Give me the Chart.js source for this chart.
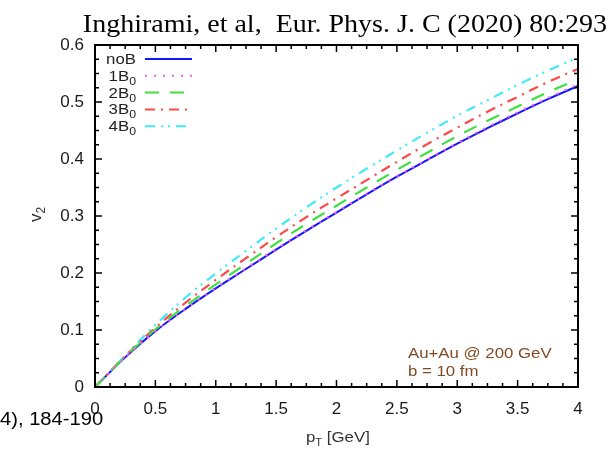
<!DOCTYPE html>
<html>
<head>
<meta charset="utf-8">
<script src="https://cdn.jsdelivr.net/npm/chart.js@4"></script>
<style>
  html, body { margin: 0; padding: 0; background: #fff; }
  #wrap { width: 609px; height: 455px; }
</style>
</head>
<body>
<div id="wrap"><canvas id="v2chart" width="609" height="455"></canvas></div>
<script>
// pT grid [GeV] and v2 curves
const pT    = [0, 0.25, 0.5, 0.75, 1.0, 1.25, 1.5, 1.75, 2.0, 2.25, 2.5, 2.75, 3.0, 3.25, 3.5, 3.75, 4.0];
const v2noB = [0, 0.052, 0.098, 0.137, 0.173, 0.207, 0.241, 0.274, 0.306, 0.338, 0.369, 0.398, 0.427, 0.454, 0.480, 0.505, 0.528];
const v2B1  = [0, 0.052, 0.098, 0.137, 0.174, 0.208, 0.242, 0.275, 0.307, 0.339, 0.370, 0.399, 0.428, 0.456, 0.482, 0.507, 0.531];
const v2B2  = [0, 0.053, 0.101, 0.142, 0.180, 0.216, 0.252, 0.286, 0.318, 0.350, 0.381, 0.411, 0.440, 0.467, 0.492, 0.517, 0.540];
const v2B3  = [0, 0.054, 0.104, 0.148, 0.188, 0.226, 0.263, 0.298, 0.331, 0.363, 0.395, 0.426, 0.455, 0.483, 0.509, 0.535, 0.558];
const v2B4  = [0, 0.055, 0.109, 0.157, 0.199, 0.239, 0.278, 0.315, 0.350, 0.383, 0.415, 0.446, 0.476, 0.503, 0.530, 0.555, 0.578];

const seriesNames = ['noB', '1B', '2B', '3B', '4B'];
const seriesSubs  = ['', '0', '0', '0', '0'];
const xTicks = [0, 0.5, 1, 1.5, 2, 2.5, 3, 3.5, 4];
const yTicks = [0, 0.1, 0.2, 0.3, 0.4, 0.5, 0.6];

const seriesValues = [v2noB, v2B1, v2B2, v2B3, v2B4];
const colors  = ['#1515ff', '#f060f0', '#40e040', '#ff4848', '#40eaf8'];
const dashes  = [[], [2, 7], [14, 11], [10, 6, 2, 6], [10, 6, 2, 5, 2, 6]];

const SX = 1.12; // the picture is a bit wider than tall in its text

function wideText(ctx, str, x, y, align) {
  const w = ctx.measureText(str).width * SX;
  let x0 = x;
  if (align === 'right') x0 = x - w;
  if (align === 'center') x0 = x - w / 2;
  ctx.save();
  ctx.translate(x0, y);
  ctx.scale(SX, 1);
  ctx.textAlign = 'left';
  ctx.fillText(str, 0, 0);
  ctx.restore();
  return w;
}

// frame with inward ticks, legend and the texts
const decor = {
  id: 'decor',
  afterDraw(chart) {
    const ctx = chart.ctx;
    const a = chart.chartArea;
    const xs = chart.scales.x, ys = chart.scales.y;

    ctx.save();
    ctx.strokeStyle = '#000';
    ctx.lineWidth = 1.5;
    ctx.beginPath();
    // minor and major ticks
    for (let i = 0; i < xTicks.length; i++) {
      const px = xs.getPixelForValue(xTicks[i]);
      ctx.moveTo(px, a.bottom); ctx.lineTo(px, a.bottom - 7);
      ctx.moveTo(px, a.top); ctx.lineTo(px, a.top + 7);
      if (i < xTicks.length - 1) {
        const step = (xTicks[i + 1] - xTicks[i]) / 4;
        for (let k = 1; k < 4; k++) {
          const mx = xs.getPixelForValue(xTicks[i] + k * step);
          ctx.moveTo(mx, a.bottom); ctx.lineTo(mx, a.bottom - 4);
          ctx.moveTo(mx, a.top); ctx.lineTo(mx, a.top + 4);
        }
      }
    }
    for (let i = 0; i < yTicks.length; i++) {
      const py = ys.getPixelForValue(yTicks[i]);
      ctx.moveTo(a.left, py); ctx.lineTo(a.left + 7, py);
      ctx.moveTo(a.right, py); ctx.lineTo(a.right - 7, py);
      if (i < yTicks.length - 1) {
        const step = (yTicks[i + 1] - yTicks[i]) / 4;
        for (let k = 1; k < 4; k++) {
          const my = ys.getPixelForValue(yTicks[i] + k * step);
          ctx.moveTo(a.left, my); ctx.lineTo(a.left + 4, my);
          ctx.moveTo(a.right, my); ctx.lineTo(a.right - 4, my);
        }
      }
    }
    ctx.stroke();
    ctx.lineWidth = 2;
    ctx.strokeRect(a.left, a.top, a.right - a.left, a.bottom - a.top);

    // legend
    chart.data.datasets.forEach((ds, i) => {
      const y = a.top + 14 + i * 16.8;
      ctx.fillStyle = '#222';
      let right = 136;
      if (seriesSubs[i]) {
        ctx.font = '11px "Liberation Sans", Arial, sans-serif';
        const ws = wideText(ctx, seriesSubs[i], right, y + 9, 'right');
        right -= ws;
      }
      ctx.font = '15px "Liberation Sans", Arial, sans-serif';
      wideText(ctx, seriesNames[i], right, y + 5, 'right');
      ctx.strokeStyle = ds.borderColor;
      ctx.lineWidth = 2;
      ctx.setLineDash(ds.borderDash);
      ctx.beginPath();
      ctx.moveTo(145, y); ctx.lineTo(192, y);
      ctx.stroke();
      ctx.setLineDash([]);
    });

    // annotation
    ctx.fillStyle = '#824a22';
    ctx.font = '15px "Liberation Sans", Arial, sans-serif';
    wideText(ctx, 'Au+Au @ 200 GeV', 408, 358, 'left');
    wideText(ctx, 'b = 10 fm', 408, 376, 'left');

    // axis titles
    ctx.fillStyle = '#333';
    ctx.font = '15px "Liberation Sans", Arial, sans-serif';
    let x = 306;
    x += wideText(ctx, 'p', x, 442, 'left');
    ctx.font = '10px "Liberation Sans", Arial, sans-serif';
    x += wideText(ctx, 'T', x, 446, 'left');
    ctx.font = '15px "Liberation Sans", Arial, sans-serif';
    wideText(ctx, ' [GeV]', x, 442, 'left');

    ctx.save();
    ctx.translate(41, 222);
    ctx.rotate(-Math.PI / 2);
    ctx.font = '17px "Liberation Sans", Arial, sans-serif';
    ctx.textAlign = 'left';
    ctx.fillText('v', 0, 0);
    const vw = ctx.measureText('v').width;
    ctx.font = '12px "Liberation Sans", Arial, sans-serif';
    ctx.fillText('2', vw, 4);
    ctx.restore();

    // citation line and cut-off reference
    ctx.fillStyle = '#000';
    ctx.font = '25px "Liberation Serif", "Times New Roman", serif';
    wideText(ctx, 'Inghirami, et al,  Eur. Phys. J. C (2020) 80:293', 607, 32, 'right');
    ctx.font = '18px "Liberation Sans", Arial, sans-serif';
    wideText(ctx, '4), 184-190', 0, 425, 'left');
    ctx.restore();
  }
};

const data1 = {
  datasets: seriesValues.map((vals, i) => ({
    label: seriesNames[i] + seriesSubs[i],
    data: pT.map((p, j) => ({ x: p, y: vals[j] })),
    borderColor: colors[i],
    borderWidth: i === 0 ? 2 : 2.2,
    borderDash: dashes[i],
    pointRadius: 0,
    tension: 0.35,
    fill: false
  }))
};
// keep the dotted 1B0 on top of the solid noB line
data1.datasets[0].order = 1;
data1.datasets[1].order = 0;

const tickFont = { family: '"Liberation Sans", Arial, sans-serif', size: 17 };

const config1 = {
  type: 'line',
  data: data1,
  options: {
    responsive: false,
    animation: false,
    events: [],
    layout: { padding: { top: 45, right: 31, left: 0, bottom: 0 } },
    plugins: { legend: { display: false }, title: { display: false }, tooltip: { enabled: false } },
    scales: {
      x: {
        type: 'linear',
        min: 0, max: 4,
        afterBuildTicks: s => { s.ticks = xTicks.map(v => ({ value: v })); },
        afterFit: s => { s.height = 68; },
        grid: { display: false, drawTicks: false },
        border: { display: false },
        ticks: { font: tickFont, color: '#1a1a1a', padding: 12, maxRotation: 0, callback: v => String(v) }
      },
      y: {
        min: 0, max: 0.6,
        afterBuildTicks: s => { s.ticks = yTicks.map(v => ({ value: v })); },
        afterFit: s => { s.width = 95; },
        grid: { display: false, drawTicks: false },
        border: { display: false },
        ticks: { font: tickFont, color: '#1a1a1a', padding: 11, callback: v => String(+v.toFixed(1)) }
      }
    }
  },
  plugins: [decor]
};

const myChart = new Chart(document.getElementById('v2chart'), config1);
</script>
</body>
</html>
